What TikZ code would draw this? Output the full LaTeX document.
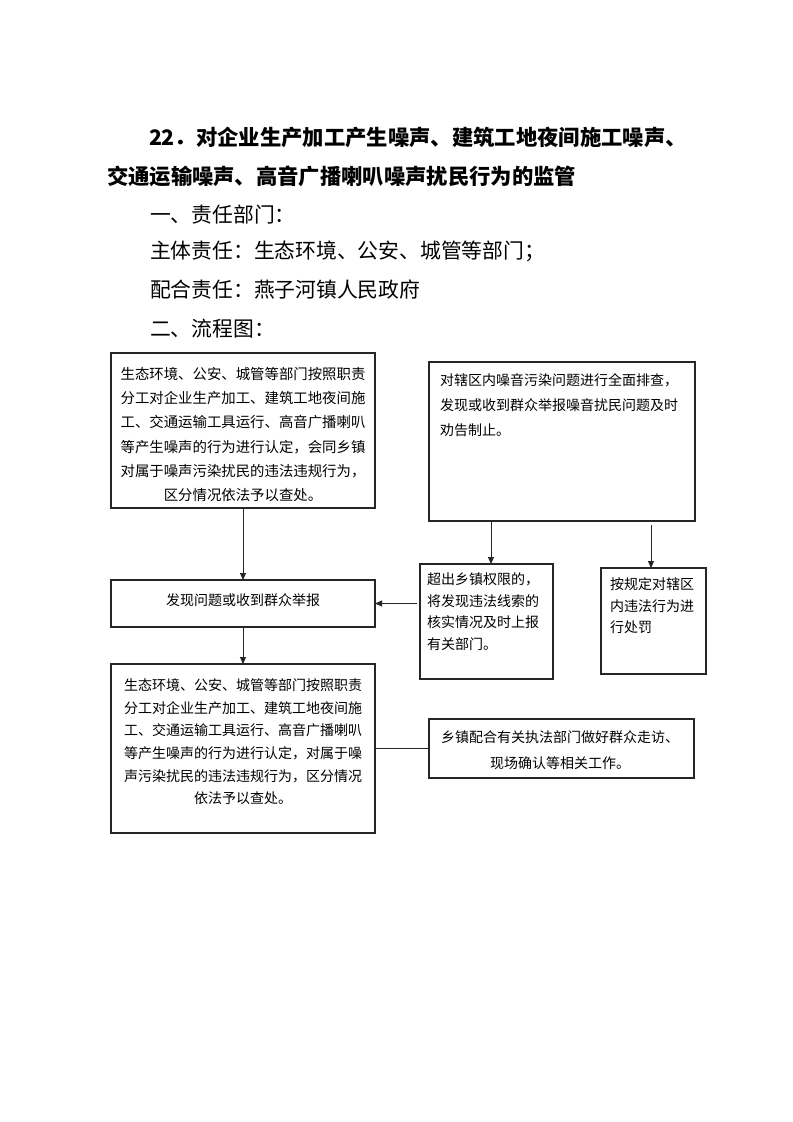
\documentclass[tikz,border=0pt]{standalone}
\usepackage{fontspec}
\newfontfamily\cjk{Noto Sans CJK SC}
\usetikzlibrary{arrows.meta}
\begin{document}
\begin{tikzpicture}[x=0.75pt,y=-0.75pt,
  box/.style={draw=black!85, line width=0.9pt, inner sep=0pt, outer sep=0pt},
  txt/.style={inner sep=0pt, outer sep=0pt},
  boxfont/.style={font=\cjk\fontsize{10.5}{#1}\selectfont},
  bodyfont/.style={font=\cjk\fontsize{15.6}{20}\selectfont},
  titlefont/.style={font=\cjk\bfseries\fontsize{16}{20}\selectfont},
  arr/.style={draw=black!85, line width=0.75pt, -{Triangle[length=5.25pt,width=4.5pt]}},
  conn/.style={draw=black!85, line width=0.75pt}]
\useasboundingbox (0,0) rectangle (793,1122);
% heading
\node[txt, anchor=west, titlefont] (t1) at (149,137.7) {22．对企业生产加工产生噪声、建筑工地夜间施工噪声、};
\node[txt, anchor=west, titlefont] (t2) at (107,176.7) {交通运输噪声、高音广播喇叭噪声扰民行为的监管};
\node[txt, anchor=west, bodyfont] (s1) at (150,215) {一、责任部门：};
\node[txt, anchor=west, bodyfont] (s2) at (150,251.7) {主体责任：生态环境、公安、城管等部门；};
\node[txt, anchor=west, bodyfont] (s3) at (150,290) {配合责任：燕子河镇人民政府};
\node[txt, anchor=west, bodyfont] (s4) at (150,328.3) {二、流程图：};
% boxes
\node[box, minimum width=198pt, minimum height=116.25pt] (A) at (243,430.5) {};
\node[box, minimum width=199.5pt, minimum height=119.25pt] (B) at (562,441.5) {};
\node[box, minimum width=198pt, minimum height=35.25pt] (C) at (243,603.5) {};
\node[box, minimum width=198pt, minimum height=126.75pt] (D) at (243,748.5) {};
\node[box, minimum width=99.75pt, minimum height=86.25pt] (E) at (486.5,621.5) {};
\node[box, minimum width=78.75pt, minimum height=79.5pt] (F) at (653.5,621) {};
\node[box, minimum width=198.75pt, minimum height=44.25pt] (G) at (561.5,748.5) {};
% box texts
\node[txt, font=\cjk\fontsize{10.8}{18.15}\selectfont, align=center] (At) at (243,434.5) {生态环境、公安、城管等部门按照职责\\分工对企业生产加工、建筑工地夜间施\\工、交通运输工具运行、高音广播喇叭\\等产生噪声的行为进行认定，会同乡镇\\对属于噪声污染扰民的违法违规行为，\\区分情况依法予以查处。};
\node[txt, boxfont=18.75pt, align=left, anchor=north west] (Bt) at (440,374) {对辖区内噪音污染问题进行全面排查，\\发现或收到群众举报噪音扰民问题及时\\劝告制止。};
\node[txt, boxfont=10pt] (Ct) at (243,600) {发现问题或收到群众举报};
\node[txt, boxfont=17pt, align=center] (Dt) at (243,741.7) {生态环境、公安、城管等部门按照职责\\分工对企业生产加工、建筑工地夜间施\\工、交通运输工具运行、高音广播喇叭\\等产生噪声的行为进行认定，对属于噪\\声污染扰民的违法违规行为，区分情况\\依法予以查处。};
\node[txt, boxfont=16.1pt, align=left, anchor=north west] (Et) at (427,573) {超出乡镇权限的，\\将发现违法线索的\\核实情况及时上报\\有关部门。};
\node[txt, boxfont=16.1pt, align=left, anchor=north west] (Ft) at (610,578) {按规定对辖区\\内违法行为进\\行处罚};
\node[txt, boxfont=19.3pt, align=center] (Gt) at (560,750) {乡镇配合有关执法部门做好群众走访、\\现场确认等相关工作。};
% connectors
\coordinate (b1) at (491,521);
\coordinate (b2) at (651,525);
\coordinate (e1) at (417,603.5);
\draw[arr] (A.south) -- (C.north);
\draw[arr] (C.south) -- (D.north);
\draw[arr] (b1) -- (b1 |- E.north);
\draw[arr] (b2) -- (b2 |- F.north);
\draw[arr] (e1) -- (C.east);
\draw[conn] (D.east) -- (G.west);
\end{tikzpicture}
\end{document}
